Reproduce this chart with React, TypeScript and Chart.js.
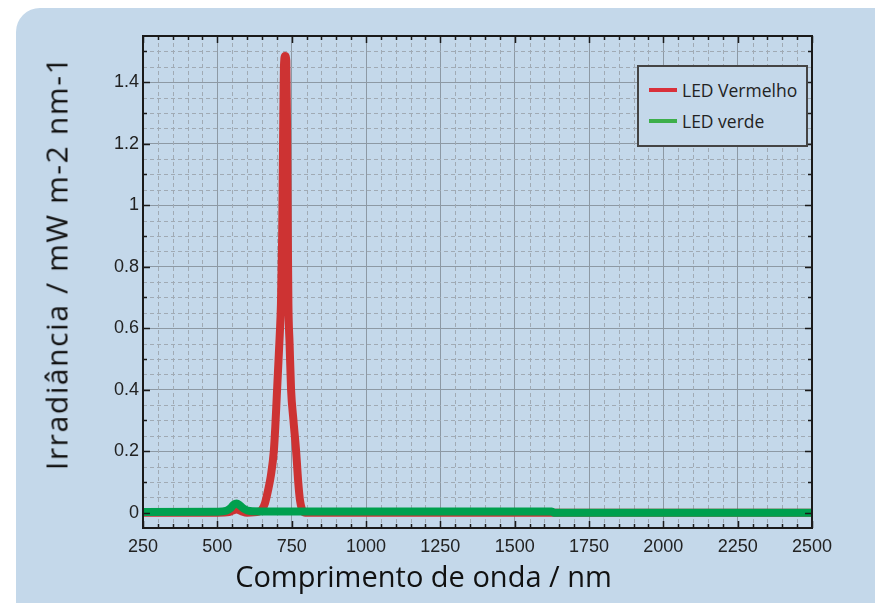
import React, { useEffect, useRef } from 'react';
import { Chart, registerables } from 'chart.js';

Chart.register(...registerables);

// ---- data ----
const seriesNames = ['LED Vermelho', 'LED verde'];

const redWavelength = [250, 500, 540, 555, 565, 580, 600, 640, 650, 660, 670, 680, 690, 695, 700, 705, 710, 714, 718, 721, 724, 728, 732, 735, 737, 739, 743, 748, 756, 765, 772, 778, 785, 795, 850, 1000, 1500, 2000, 2500];
const redIrradiance = [0, 0, 0.002, 0.008, 0.01, 0.005, 0, 0.003, 0.01, 0.03, 0.07, 0.12, 0.2, 0.28, 0.38, 0.48, 0.58, 0.68, 0.9, 1.2, 1.45, 1.485, 1.47, 1.2, 0.9, 0.68, 0.55, 0.4, 0.3, 0.2, 0.1, 0.04, 0.01, 0, 0, 0, 0, 0, 0];

const greenWavelength = [250, 500, 530, 545, 555, 565, 575, 590, 610, 650, 1000, 1500, 1625, 1632, 2000, 2500];
const greenIrradiance = [0.002, 0.003, 0.006, 0.015, 0.026, 0.03, 0.024, 0.012, 0.005, 0.004, 0.004, 0.004, 0.004, 0.0, 0.0, 0.0];

const xTickValues = [250, 500, 750, 1000, 1250, 1500, 1750, 2000, 2250, 2500];
const xTickLabels = ['250', '500', '750', '1000', '1250', '1500', '1750', '2000', '2250', '2500'];
const yTickValues = [0, 0.2, 0.4, 0.6, 0.8, 1, 1.2, 1.4];
const yTickLabels = ['0', '0.2', '0.4', '0.6', '0.8', '1', '1.2', '1.4'];

const xTitle = 'Comprimento de onda / nm';
const yTitle = 'Irradiância / mW m-2 nm-1';

const xMin = 250;
const xMax = 2500;
const yMin = -0.05;
const yMax = 1.55;
const xMinorGrid = 50;
const yMinorGrid = 0.05;
const yMinorTick = 0.1;

// ---- styles ----
const PANEL_BG = '#c4d8ea';
const RED = '#cd3333';
const GREEN = '#00a04e';

const framePlugin = {
  id: 'frameAndMinor',
  beforeDatasetsDraw(chart: any) {
    const { ctx, chartArea: a, scales } = chart;
    const x = scales.x;
    const y = scales.y;
    ctx.save();
    ctx.beginPath();
    ctx.rect(a.left, a.top, a.right - a.left, a.bottom - a.top);
    ctx.clip();
    ctx.strokeStyle = '#a0aab4';
    ctx.lineWidth = 1;
    ctx.setLineDash([4, 3]);
    const nx = Math.round((xMax - xMin) / xMinorGrid);
    for (let k = 1; k < nx; k++) {
      if (k % 5 === 0) continue;
      const v = xMin + k * xMinorGrid;
      const px = Math.round(x.getPixelForValue(v)) + 0.5;
      ctx.beginPath();
      ctx.moveTo(px, a.top);
      ctx.lineTo(px, a.bottom);
      ctx.stroke();
    }
    const ny = Math.round((yMax - yMin) / yMinorGrid);
    for (let k = 1; k < ny; k++) {
      const v = yMin + k * yMinorGrid;
      const idx = Math.round(v / yMinorGrid);
      if (idx % 4 === 0) continue;
      const py = Math.round(y.getPixelForValue(v)) + 0.5;
      ctx.beginPath();
      ctx.moveTo(a.left, py);
      ctx.lineTo(a.right, py);
      ctx.stroke();
    }
    ctx.restore();
  },
  afterDatasetsDraw(chart: any) {
    const { ctx, chartArea: a, scales } = chart;
    const x = scales.x;
    const y = scales.y;
    ctx.save();
    ctx.strokeStyle = '#1a1a1a';
    ctx.lineWidth = 1.5;
    ctx.setLineDash([]);
    const nx = Math.round((xMax - xMin) / xMinorGrid);
    for (let k = 0; k <= nx; k++) {
      const v = xMin + k * xMinorGrid;
      const len = k % 5 === 0 ? 7 : 4;
      const px = Math.round(x.getPixelForValue(v)) + 0.5;
      ctx.beginPath();
      ctx.moveTo(px, a.bottom);
      ctx.lineTo(px, a.bottom - len);
      ctx.moveTo(px, a.top);
      ctx.lineTo(px, a.top + len);
      ctx.stroke();
    }
    const ny = Math.round((yMax - 0.05) / yMinorTick);
    for (let k = 0; k <= ny; k++) {
      const v = k * yMinorTick;
      if (v > yMax) break;
      const len = k % 2 === 0 ? 7 : 4;
      const py = Math.round(y.getPixelForValue(v)) + 0.5;
      ctx.beginPath();
      ctx.moveTo(a.left, py);
      ctx.lineTo(a.left + len, py);
      ctx.moveTo(a.right, py);
      ctx.lineTo(a.right - len, py);
      ctx.stroke();
    }
    ctx.lineWidth = 2;
    ctx.strokeRect(a.left, a.top, a.right - a.left, a.bottom - a.top);
    ctx.restore();
  },
};

export default function App() {
  const canvasRef = useRef<HTMLCanvasElement | null>(null);

  useEffect(() => {
    if (!canvasRef.current) return;
    const chart = new Chart(canvasRef.current, {
      type: 'line',
      data: {
        datasets: [
          {
            label: seriesNames[0],
            data: redWavelength.map((w, i) => ({ x: w, y: redIrradiance[i] })),
            borderColor: RED,
            borderWidth: 8,
            pointRadius: 0,
            cubicInterpolationMode: 'monotone',
            borderJoinStyle: 'round',
            borderCapStyle: 'round',
            fill: false,
            order: 1,
          },
          {
            label: seriesNames[1],
            data: greenWavelength.map((w, i) => ({ x: w, y: greenIrradiance[i] })),
            borderColor: GREEN,
            borderWidth: 8,
            pointRadius: 0,
            cubicInterpolationMode: 'monotone',
            fill: false,
            order: 0,
          },
        ],
      },
      options: {
        animation: false,
        responsive: false,
        events: [],
        layout: { padding: { top: 28, right: 63, left: 0, bottom: 0 } },
        plugins: {
          legend: { display: false },
          tooltip: { enabled: false },
        },
        scales: {
          x: {
            type: 'linear',
            min: xMin,
            max: xMax,
            afterBuildTicks: (s: any) => {
              s.ticks = xTickValues.map((v) => ({ value: v }));
            },
            afterFit: (s: any) => {
              s.height = 75;
            },
            ticks: {
              autoSkip: false,
              maxRotation: 0,
              padding: 8,
              color: '#222',
              font: { family: 'Liberation Sans', size: 18 },
              callback: (_v: any, i: number) => xTickLabels[i],
            },
            grid: { color: '#8d99a4', lineWidth: 1, drawTicks: false },
            border: { display: false },
          },
          y: {
            type: 'linear',
            min: yMin,
            max: yMax,
            afterBuildTicks: (s: any) => {
              s.ticks = yTickValues.map((v) => ({ value: v }));
            },
            afterFit: (s: any) => {
              s.width = 127;
            },
            ticks: {
              autoSkip: false,
              padding: 4,
              color: '#222',
              font: { family: 'Liberation Sans', size: 18 },
              callback: (_v: any, i: number) => yTickLabels[i],
            },
            grid: { color: '#8d99a4', lineWidth: 1, drawTicks: false },
            border: { display: false },
          },
        },
      },
      plugins: [framePlugin],
    } as any);
    return () => chart.destroy();
  }, []);

  const legendRow = (color: string, text: string, cy: number) => (
    <div style={{ position: 'absolute', left: 0, top: cy - 10, height: 20, width: '100%' }}>
      <div style={{ position: 'absolute', left: 10, top: 8, width: 28, height: 4, background: color }} />
      <div
        style={{
          position: 'absolute',
          left: 43,
          top: 0,
          lineHeight: '20px',
          fontFamily: '"Open Sans", sans-serif',
          fontSize: 17.5,
          color: '#222',
          whiteSpace: 'nowrap',
        }}
      >
        {text}
      </div>
    </div>
  );

  return (
    <div style={{ position: 'fixed', left: 0, top: 0, width: 875, height: 603, background: '#fff', overflow: 'hidden' }}>
      <div
        style={{
          position: 'absolute',
          left: 16,
          top: 8,
          width: 859,
          height: 595,
          background: PANEL_BG,
          borderTopLeftRadius: 24,
        }}
      >
        <canvas ref={canvasRef} width={859} height={595} style={{ display: 'block' }} />
      </div>
      <div
        style={{
          position: 'absolute',
          left: 423.5,
          top: 575,
          transform: 'translate(-50%, -50%)',
          fontFamily: '"Open Sans", sans-serif',
          fontSize: 29,
          color: '#111',
          whiteSpace: 'nowrap',
        }}
      >
        {xTitle}
      </div>
      <div
        style={{
          position: 'absolute',
          left: 56,
          top: 262.5,
          transform: 'translate(-50%, -50%) rotate(-90deg)',
          fontFamily: '"Open Sans", sans-serif',
          fontSize: 30,
          letterSpacing: 1.6,
          color: '#111',
          whiteSpace: 'nowrap',
        }}
      >
        {yTitle}
      </div>
      <div
        style={{
          position: 'absolute',
          left: 637,
          top: 65,
          width: 171,
          height: 82,
          boxSizing: 'border-box',
          border: '2px solid #444',
          background: PANEL_BG,
        }}
      >
        {legendRow('#d9303a', seriesNames[0], 22.5)}
        {legendRow('#3daf4a', seriesNames[1], 54)}
      </div>
    </div>
  );
}
